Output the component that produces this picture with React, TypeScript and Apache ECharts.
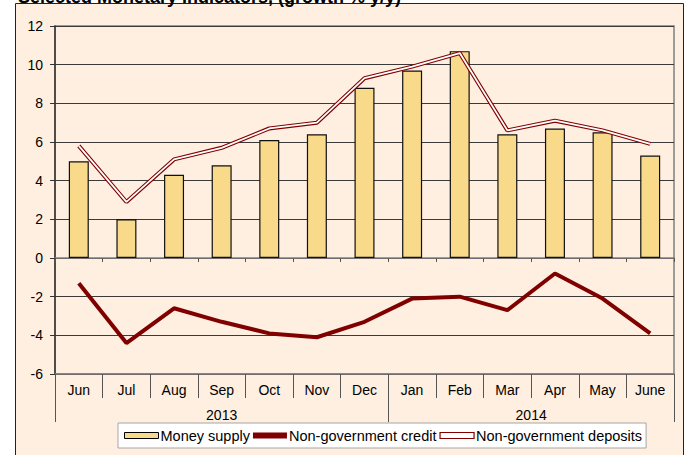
import React, { useEffect, useRef } from "react";
import * as echarts from "echarts";

const months = ["Jun", "Jul", "Aug", "Sep", "Oct", "Nov", "Dec", "Jan", "Feb", "Mar", "Apr", "May", "June"];
const years = ["2013", "2014"];
const yearSpans = [7, 6];
const moneySupply = [5.0, 2.0, 4.3, 4.8, 6.1, 6.4, 8.8, 9.7, 10.7, 6.4, 6.7, 6.5, 5.3];
const nonGovCredit = [-1.3, -4.4, -2.6, -3.3, -3.9, -4.1, -3.3, -2.1, -2.0, -2.7, -0.8, -2.1, -3.9];
const nonGovDeposits = [5.8, 2.9, 5.1, 5.7, 6.7, 7.0, 9.3, 9.9, 10.6, 6.6, 7.1, 6.6, 5.9];
const yMin = -6;
const yMax = 12;
const yStep = 2;
const title = "Selected Monetary Indicators, (growth % y/y)";

const FONT = "Liberation Sans, Arial, sans-serif";
const DARK_RED = "#800000";

export default function App() {
  const ref = useRef<HTMLDivElement>(null);
  useEffect(() => {
    if (!ref.current) return;
    const chart = echarts.init(ref.current, undefined, { renderer: "svg" });

    const bounds: number[] = [0];
    yearSpans.forEach((s) => bounds.push(bounds[bounds.length - 1] + s));
    const centres = yearSpans.map((s, i) => bounds[i] + s / 2);

    const option: any = {
      animation: false,
      backgroundColor: "#ffffff",
      textStyle: { fontFamily: FONT },
      graphic: [
        {
          type: "rect",
          z: -10,
          shape: { x: 15.5, y: 3.5, width: 668, height: 470 },
          style: { fill: "#FEEFE1", stroke: "#222", lineWidth: 1 },
          silent: true,
        },
        {
          type: "text",
          x: 18,
          y: 6,
          z: 10,
          style: {
            text: title,
            font: "bold 18px Liberation Sans, Arial, sans-serif",
            fill: "#000",
            verticalAlign: "bottom",
            align: "left",
          },
          silent: true,
        },
      ],
      grid: {
        left: 55,
        top: 26,
        right: 13,
        bottom: 81,
        show: true,
        borderColor: "#808080",
        borderWidth: 1.5,
        backgroundColor: "transparent",
      },
      legend: {
        left: 118,
        top: 423,
        backgroundColor: "#ffffff",
        borderColor: "#a6a6a6",
        borderWidth: 1,
        padding: [5, 4, 5, 6],
        itemGap: 3,
        itemWidth: 34,
        itemHeight: 6,
        textStyle: { fontSize: 14.5, color: "#000", fontFamily: FONT, padding: [0, 0, 0, -3] },
        data: [
          { name: "Money supply", icon: "rect", itemStyle: { color: "#F9D98A", borderColor: "#000", borderWidth: 1 } },
          { name: "Non-government credit", icon: "rect", itemStyle: { color: DARK_RED, borderWidth: 0 } },
          { name: "Non-government deposits", icon: "rect", itemStyle: { color: "#ffffff", borderColor: DARK_RED, borderWidth: 1.2 } },
        ],
      },
      xAxis: [
        {
          type: "category",
          data: months,
          position: "bottom",
          axisLine: { onZero: false, lineStyle: { color: "#808080", width: 1.5 } },
          axisTick: { show: true, interval: 0, length: 24, lineStyle: { color: "#555" } },
          axisLabel: { interval: 0, color: "#000", fontSize: 14, fontFamily: FONT, margin: 9 },
          splitLine: { show: false },
        },
        {
          type: "value",
          min: 0,
          max: months.length,
          position: "bottom",
          axisLine: { show: false, onZero: false },
          axisTick: { show: true, customValues: bounds, length: 48, lineStyle: { color: "#555" } },
          axisLabel: {
            show: true,
            customValues: centres,
            color: "#000",
            fontSize: 14,
            fontFamily: FONT,
            margin: 34,
            formatter: (v: number) => {
              const i = centres.findIndex((c) => Math.abs(c - v) < 1e-6);
              return i >= 0 ? years[i] : "";
            },
          },
          splitLine: { show: false },
        },
        {
          type: "category",
          data: months,
          position: "bottom",
          axisLine: { onZero: true, onZeroAxisIndex: 0, lineStyle: { color: "#808080", width: 1.5 } },
          axisTick: { show: true, interval: 0, length: 4, lineStyle: { color: "#555" } },
          axisLabel: { show: false },
          splitLine: { show: false },
        },
      ],
      yAxis: {
        type: "value",
        min: yMin,
        max: yMax,
        interval: yStep,
        axisLine: { show: true, lineStyle: { color: "#333", width: 1.5 } },
        axisTick: { show: true, length: 5, lineStyle: { color: "#333" } },
        axisLabel: { color: "#000", fontSize: 14, fontFamily: FONT, margin: 12 },
        splitLine: { show: true, lineStyle: { color: "#3a3a3a", width: 1 } },
      },
      series: [
        {
          name: "Money supply",
          type: "bar",
          xAxisIndex: 0,
          data: moneySupply,
          barWidth: "42%",
          itemStyle: { color: "#F9D98A", borderColor: "#111", borderWidth: 1.2 },
          z: 2,
        },
        {
          name: "Non-government credit",
          type: "line",
          xAxisIndex: 0,
          data: nonGovCredit,
          symbol: "none",
          lineStyle: { color: DARK_RED, width: 4 },
          itemStyle: { color: DARK_RED },
          z: 3,
        },
        {
          name: "Non-government deposits",
          type: "line",
          xAxisIndex: 0,
          data: nonGovDeposits,
          symbol: "none",
          lineStyle: { color: DARK_RED, width: 4 },
          itemStyle: { color: DARK_RED },
          z: 4,
        },
        {
          name: "deposits-inner",
          type: "line",
          xAxisIndex: 0,
          data: nonGovDeposits,
          symbol: "none",
          lineStyle: { color: "#ffffff", width: 1.8 },
          itemStyle: { color: "#ffffff" },
          z: 5,
          silent: true,
        },
      ],
    };
    chart.setOption(option);
    return () => chart.dispose();
  }, []);
  return (
    <div
      ref={ref}
      style={{ position: "fixed", left: 0, top: 0, width: 687, height: 455 }}
    />
  );
}
